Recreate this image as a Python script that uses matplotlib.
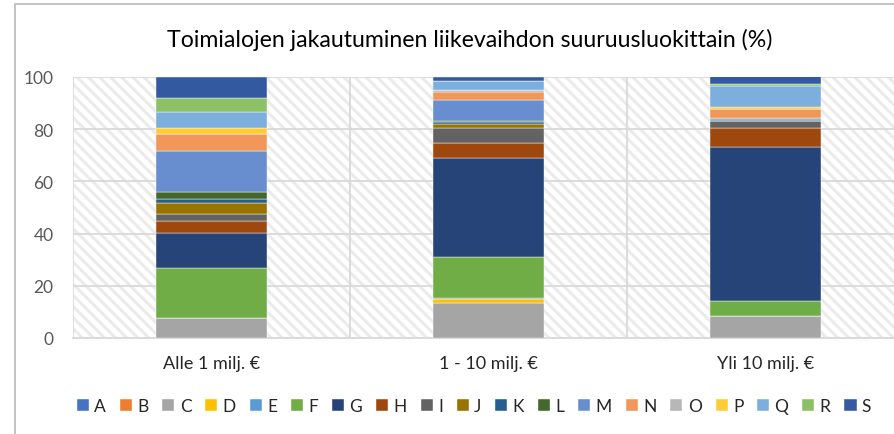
import numpy as np
import matplotlib
matplotlib.use('Agg')
import matplotlib.pyplot as plt
import matplotlib.patches as mpatches
from matplotlib import rcParams

rcParams['font.family'] = ['Lato', 'DejaVu Sans']
rcParams['hatch.linewidth'] = 2.2
rcParams['hatch.color'] = '#ebebeb'

categories = ['Alle 1 milj. €', '1 - 10 milj. €', 'Yli 10 milj. €']
letters = ['A', 'B', 'C', 'D', 'E', 'F', 'G', 'H', 'I', 'J',
           'K', 'L', 'M', 'N', 'O', 'P', 'Q', 'R', 'S']

# share (%) of each industry per turnover class
A = [0.0, 0.0, 0.0]
B = [0.0, 0.0, 0.0]
C = [7.7, 13.4, 8.6]
D = [0.0, 1.4, 0.0]
E = [0.0, 0.6, 0.0]
F = [19.3, 15.7, 5.4]
G = [13.1, 37.9, 59.3]
H = [4.6, 5.9, 7.1]
I = [2.7, 5.4, 2.6]
J = [4.4, 1.8, 0.2]
K = [1.5, 0.5, 0.5]
L = [2.6, 0.6, 0.1]
M = [15.9, 8.0, 0.4]
N = [6.4, 3.2, 3.6]
O = [0.0, 0.5, 0.0]
P = [2.2, 0.0, 0.6]
Q = [6.3, 3.5, 8.0]
R = [5.4, 0.0, 1.0]
S = [7.8, 1.5, 2.8]

series = [A, B, C, D, E, F, G, H, I, J, K, L, M, N, O, P, Q, R, S]
colors = ['#4472C4', '#ED7D31', '#A5A5A5', '#FFC000', '#5B9BD5', '#70AD47',
          '#264478', '#9E480E', '#636363', '#997300', '#255E91', '#43682B',
          '#698ED0', '#F1975A', '#B7B7B7', '#FFCD33', '#7CAFDD', '#8CC168',
          '#335AA1']

W, H_ = 894, 435
fig = plt.figure(figsize=(W / 100, H_ / 100), dpi=100)

# outer chart frame
fig.patches.append(mpatches.Rectangle((15 / W, -0.1), 1.2, (435 - 5) / H_ + 0.1,
                                      transform=fig.transFigure, fill=False,
                                      edgecolor='#c4c4c4', linewidth=1.4))

ax = fig.add_axes([73 / W, (435 - 339) / H_, 831 / W, 261 / H_])
ax.add_patch(mpatches.Rectangle((0, 0), 1, 1, transform=ax.transAxes,
                                facecolor='white', hatch='\\\\\\', edgecolor='#ebebeb',
                                linewidth=0, zorder=0))

x = np.arange(len(categories))
bottom = np.zeros(len(categories))
for name, vals, col in zip(letters, series, colors):
    vals = np.array(vals)
    ax.bar(x, vals, 0.40, bottom=bottom, color=col, label=name,
           edgecolor='white', linewidth=0.3, zorder=3)
    bottom += vals

ax.set_xlim(-0.5, 2.5)
ax.set_ylim(0, 100)
ax.set_yticks(np.arange(0, 101, 20))
ax.set_xticks(x)
ax.set_xticklabels(categories)
ax.set_xticks([-0.5, 0.5, 1.5], minor=True)
ax.grid(axis='y', color='#d9d9d9', linewidth=1.3, zorder=1)
ax.grid(axis='x', which='minor', color='#d9d9d9', linewidth=1.3, zorder=1)
ax.grid(axis='x', which='major', visible=False)
ax.tick_params(axis='both', which='both', length=0, colors='#595959', labelsize=12.5)
ax.tick_params(axis='x', pad=12, labelcolor='#262626', labelsize=13)
ax.tick_params(axis='y', pad=14)
for lab in ax.get_yticklabels():
    lab.set_horizontalalignment('right')
for sp in ['top', 'right', 'left']:
    ax.spines[sp].set_visible(False)
ax.spines['bottom'].set_color('#d9d9d9')
ax.spines['bottom'].set_linewidth(1.3)

fig.text(470 / W, (435 - 40) / H_, 'Toimialojen jakautuminen liikevaihdon suuruusluokittain (%)',
         ha='center', va='center', fontsize=16.7, color='#000000')

handles, labels = ax.get_legend_handles_labels()
fig.legend(handles, labels, ncol=19, loc='center', bbox_to_anchor=(474 / W, (435 - 407) / H_),
           frameon=False, fontsize=12.5, handlelength=0.7, handleheight=0.7,
           handletextpad=0.3, columnspacing=0.8, labelcolor='#262626')

fig.savefig('out.png', dpi=100)
